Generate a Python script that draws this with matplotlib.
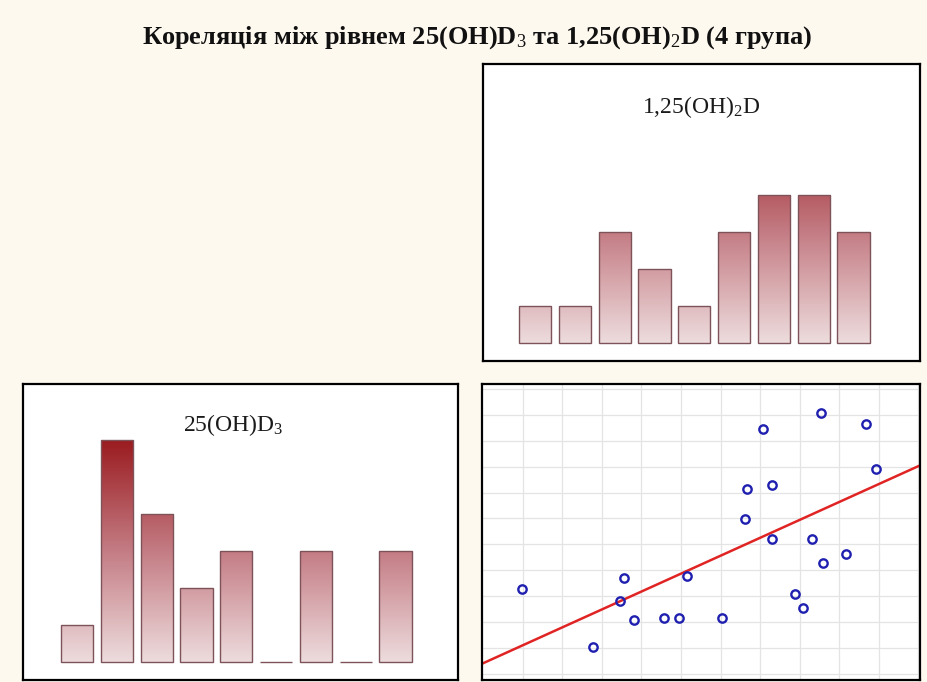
import numpy as np
import matplotlib
matplotlib.use("Agg")
import matplotlib.pyplot as plt
from matplotlib.colors import LinearSegmentedColormap

plt.rcParams["font.family"] = ["Liberation Serif", "DejaVu Serif"]
plt.rcParams["mathtext.fontset"] = "custom"
plt.rcParams["mathtext.rm"] = "Liberation Serif"
plt.rcParams["mathtext.it"] = "Liberation Serif"
plt.rcParams["mathtext.bf"] = "Liberation Serif:bold"

# histogram counts (9 bins each)
d3_counts = [1, 6, 4, 2, 3, 0, 3, 0, 3]
d_counts = [1, 1, 3, 2, 1, 3, 4, 4, 3]

# scatter: 25(OH)D3 vs 1,25(OH)2D (grid units)
x_vals = [0.97, 2.78, 3.47, 3.56, 3.80, 4.57, 4.95, 5.16, 6.04, 6.62, 6.68,
          7.06, 7.30, 7.30, 7.87, 8.08, 8.31, 8.53, 8.58, 9.17, 9.67, 9.92]
y_vals = [3.26, 1.02, 2.81, 3.68, 2.09, 2.14, 2.14, 3.78, 2.14, 5.98, 7.15,
          9.45, 7.30, 5.21, 3.07, 2.54, 5.21, 10.08, 4.29, 4.64, 9.66, 7.92]
fit_intercept = 0.40
fit_slope = 0.693

title = "Кореляція між рівнем 25(OH)D$_3$ та 1,25(OH)$_2$D (4 група)"
label_d3 = "25(OH)D$_3$"
label_d = "1,25(OH)$_2$D"

W, H = 928, 682
bg = "#fef9ef"
bar_cmap = LinearSegmentedColormap.from_list("bars", ["#eddcdd", "#c47c84", "#9a1c20"])


def px_axes(fig, left, top, right, bottom):
    return fig.add_axes([left / W, 1 - bottom / H, (right - left) / W, (bottom - top) / H])


def frame(ax):
    for s in ax.spines.values():
        s.set_color("black")
        s.set_linewidth(1.6)
    ax.set_xticks([])
    ax.set_yticks([])


def gradient_bars(ax, counts, xlim, ylim, label, lx, ly):
    grad = np.linspace(0, 1, 200).reshape(-1, 1)
    for i, c in enumerate(counts):
        x0, x1 = i - 0.405, i + 0.405
        if c > 0:
            ax.imshow(grad * c, extent=[x0, x1, 0, c], origin="lower", aspect="auto",
                      cmap=bar_cmap, vmin=0, vmax=6, zorder=1)
    ax.bar(range(len(counts)), counts, width=0.81, facecolor="none",
           edgecolor="#7d5258", linewidth=1.0, zorder=2)
    ax.set_xlim(*xlim)
    ax.set_ylim(*ylim)
    ax.text(lx, ly, label, transform=ax.transAxes, ha="center", va="center",
            fontsize=17, color="#1a1a1a")
    frame(ax)


fig = plt.figure(figsize=(W / 100, H / 100), dpi=100, facecolor=bg)

fig.text(477 / W, 1 - 38 / H, title, ha="center", va="center",
         fontsize=19, fontweight="bold", color="#111111")

ax1 = px_axes(fig, 483, 64, 920, 361)
gradient_bars(ax1, d_counts, (-1.31, 9.67), (-0.49, 7.54), label_d, 0.5, 0.855)

ax2 = px_axes(fig, 23, 384, 458, 680)
gradient_bars(ax2, d3_counts, (-1.36, 9.57), (-0.49, 7.51), label_d3, 0.483, 0.86)

ax3 = px_axes(fig, 482, 384, 920, 680)
ax3.set_xlim(-0.03, 11.04)
ax3.set_ylim(-0.25, 11.20)
for gx in range(1, 12):
    ax3.axvline(gx, color="#e4e4e4", lw=0.9, zorder=0)
for gy in range(0, 12):
    ax3.axhline(gy, color="#e4e4e4", lw=0.9, zorder=0)
xs = np.array(ax3.get_xlim())
ax3.plot(xs, fit_intercept + fit_slope * xs, color="#e02424", lw=1.8, zorder=2)
ax3.plot(x_vals, y_vals, "o", ms=6, mfc="none", mec="#1f1fb0", mew=1.7, zorder=3)
ax3.set_xlim(-0.03, 11.04)
frame(ax3)

fig.savefig("out.png", dpi=100, facecolor=bg)
